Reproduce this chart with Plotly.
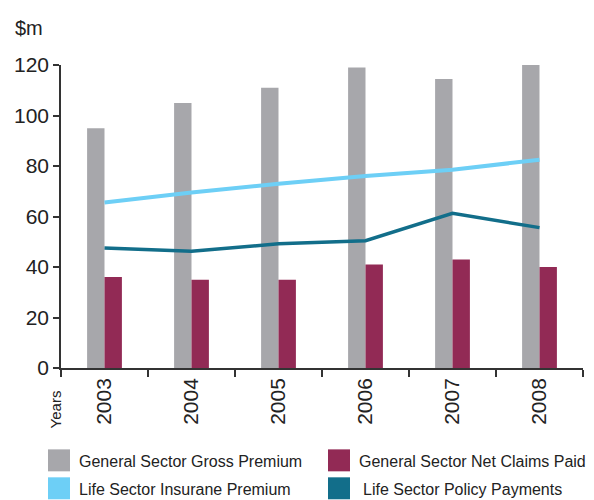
import plotly.graph_objects as go

years = ["2003", "2004", "2005", "2006", "2007", "2008"]
gen_gross_premium = [95, 105, 111, 119, 114.5, 120]
gen_net_claims = [36, 35, 35, 41, 43, 40]
life_ins_premium = [65.5, 69.5, 73, 76, 78.5, 82.5]
life_policy_payments = [47.5, 46.2, 49.2, 50.4, 61.3, 55.6]

names = ["General Sector Gross Premium", "General Sector Net Claims Paid",
         "Life Sector Insurane Premium", "Life Sector Policy Payments"]
colors = ["#a7a7ab", "#922a55", "#6dcff6", "#126e8a"]

W, H = 594, 500
L, R, T, B = 61, 583, 65, 368.5

def px(x):
    return (x - L) / (R - L)

def py(y):
    return (B - y) / (B - T)

FONT = "Liberation Sans, Arial, sans-serif"

fig = go.Figure()
fig.add_trace(go.Bar(x=years, y=gen_gross_premium, name=names[0],
                     marker=dict(color=colors[0], line=dict(width=0))))
fig.add_trace(go.Bar(x=years, y=gen_net_claims, name=names[1],
                     marker=dict(color=colors[1], line=dict(width=0))))
fig.add_trace(go.Scatter(x=years, y=life_ins_premium, name=names[2], mode="lines",
                         line=dict(color=colors[2], width=4)))
fig.add_trace(go.Scatter(x=years, y=life_policy_payments, name=names[3], mode="lines",
                         line=dict(color=colors[3], width=3.5)))

shapes = []
annotations = []
legend_items = [
    (48, 450, 77, 462, names[0], colors[0]),
    (328, 450, 357, 462, names[1], colors[1]),
    (48, 478, 77, 490, names[2], colors[2]),
    (328, 478, 361, 490, names[3], colors[3]),
]
for sx, sy, tx, ty, txt, c in legend_items:
    shapes.append(dict(type="rect", xref="paper", yref="paper",
                       x0=px(sx), x1=px(sx + 22), y0=py(sy + 22), y1=py(sy),
                       fillcolor=c, line=dict(width=0)))
    annotations.append(dict(text=txt, xref="paper", yref="paper", x=px(tx), y=py(ty),
                            xanchor="left", yanchor="middle", showarrow=False,
                            font=dict(family=FONT, size=16, color="#222")))

annotations.append(dict(text="$m", xref="paper", yref="paper", x=px(13), y=py(28),
                        xanchor="left", yanchor="middle", showarrow=False,
                        font=dict(family=FONT, size=20, color="#222")))
annotations.append(dict(text="Years", xref="paper", yref="paper", x=px(55), y=py(410),
                        xanchor="center", yanchor="middle", showarrow=False, textangle=-90,
                        font=dict(family=FONT, size=15, color="#222")))

fig.update_layout(
    width=W, height=H,
    margin=dict(l=L, r=W - R, t=T, b=H - B),
    paper_bgcolor="white", plot_bgcolor="white",
    barmode="group", bargap=0.6, bargroupgap=0,
    showlegend=False,
    shapes=shapes, annotations=annotations,
    font=dict(family=FONT, color="#222"),
)
fig.update_xaxes(type="category", tickson="boundaries", ticks="outside", ticklen=7,
                 tickwidth=1.5, tickcolor="#333", showline=True, linecolor="#333",
                 linewidth=1.5, showgrid=False, tickangle=-90,
                 tickfont=dict(family=FONT, size=21, color="#222"))
fig.update_yaxes(range=[0, 120], dtick=20, ticks="outside", ticklen=6, tickwidth=1.5,
                 tickcolor="#333", showline=True, linecolor="#333", linewidth=1.5,
                 showgrid=False, zeroline=False,
                 tickfont=dict(family=FONT, size=21, color="#222"))

fig.write_html("out.html")
